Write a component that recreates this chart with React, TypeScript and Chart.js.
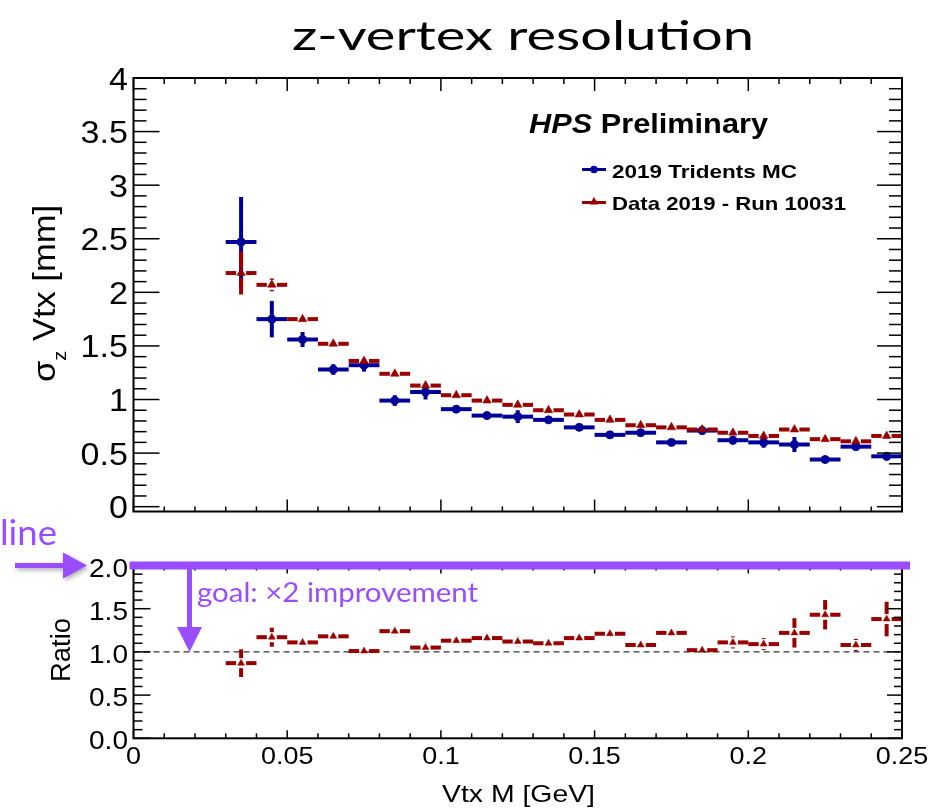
import React, { useEffect, useRef } from "react";
import { Chart, registerables } from "chart.js";

Chart.register(...registerables);

// ---------------- data ----------------
const massBins = [0.035, 0.045, 0.055, 0.065, 0.075, 0.085, 0.095, 0.105, 0.115, 0.125, 0.135,
  0.145, 0.155, 0.165, 0.175, 0.185, 0.195, 0.205, 0.215, 0.225, 0.235, 0.245];
const binHalfWidth = 0.005;

const mcSigma = [2.47, 1.75, 1.56, 1.28, 1.32, 0.99, 1.07, 0.91, 0.85, 0.84, 0.81,
  0.74, 0.67, 0.69, 0.60, 0.71, 0.62, 0.60, 0.58, 0.44, 0.56, 0.47];
const mcSigmaErr = [0.42, 0.17, 0.07, 0.05, 0.06, 0.05, 0.07, 0.03, 0.02, 0.06, 0.03,
  0.03, 0.02, 0.03, 0.02, 0.04, 0.04, 0.05, 0.07, 0.02, 0.03, 0.04];

const dataSigma = [2.18, 2.07, 1.75, 1.52, 1.36, 1.24, 1.13, 1.04, 0.99, 0.95, 0.90,
  0.86, 0.81, 0.76, 0.74, 0.72, 0.69, 0.66, 0.72, 0.63, 0.61, 0.66];
const dataSigmaErr = [0.20, 0.06, 0.04, 0.03, 0.03, 0.03, 0.03, 0.02, 0.02, 0.02, 0.02,
  0.02, 0.02, 0.02, 0.02, 0.02, 0.02, 0.02, 0.02, 0.02, 0.02, 0.02];

const ratioValues = [0.87, 1.17, 1.11, 1.18, 1.01, 1.24, 1.05, 1.13, 1.16, 1.12, 1.10,
  1.16, 1.21, 1.08, 1.22, 1.02, 1.11, 1.09, 1.22, 1.43, 1.08, 1.38];
const ratioErr = [0.16, 0.11, 0.05, 0.05, 0.04, 0.06, 0.06, 0.04, 0.03, 0.06, 0.03,
  0.05, 0.05, 0.04, 0.05, 0.05, 0.07, 0.07, 0.17, 0.17, 0.07, 0.20];

const xTickLabels = ["0", "0.05", "0.1", "0.15", "0.2", "0.25"];
const topYTickLabels = ["0", "0.5", "1", "1.5", "2", "2.5", "3", "3.5", "4"];
const ratioYTickLabels = ["0.0", "0.5", "1.0", "1.5", "2.0"];

const seriesLabels = ["2019 Tridents MC", "Data 2019 - Run 10031"];
const titleText = "z-vertex resolution";
const goalText = "goal: \u00d72 improvement";

// ---------------- style ----------------
const BLUE = "#000099";
const RED = "#990000";
const PURPLE = "#9a4cff";
const NUM = '"Liberation Sans", Arial, Helvetica, sans-serif';
const HUM = 'Lato, "Open Sans", sans-serif';
const BOT_OFFSET = 500;

type Run = { text: string; font: string; dy?: number };

function drawRuns(ctx: CanvasRenderingContext2D, runs: Run[], x: number, y: number, color: string,
  align: "left" | "center" | "right", width?: number, sx = 1, rot = false) {
  ctx.save();
  ctx.fillStyle = color;
  ctx.textBaseline = "alphabetic";
  ctx.textAlign = "left";
  const ws = runs.map((r) => { ctx.font = r.font; return ctx.measureText(r.text).width; });
  const total = ws.reduce((a, b) => a + b, 0);
  const k = width ? width / total : sx;
  ctx.translate(x, y);
  if (rot) ctx.rotate(-Math.PI / 2);
  ctx.scale(k, 1);
  let start = align === "left" ? 0 : align === "center" ? -total / 2 : -total;
  runs.forEach((r, i) => {
    ctx.font = r.font;
    ctx.fillText(r.text, start, r.dy || 0);
    start += ws[i];
  });
  ctx.restore();
}

function line(ctx: CanvasRenderingContext2D, x1: number, y1: number, x2: number, y2: number) {
  ctx.beginPath();
  ctx.moveTo(x1, y1);
  ctx.lineTo(x2, y2);
  ctx.stroke();
}

function drawErrorBars(ctx: CanvasRenderingContext2D, xs: any, ys: any, xv: number[], yv: number[],
  ev: number[], color: string, lw: number, gap: number) {
  ctx.save();
  ctx.strokeStyle = color;
  ctx.lineWidth = lw;
  ctx.lineCap = "butt";
  xv.forEach((xc, i) => {
    const px = xs.getPixelForValue(xc);
    const py = ys.getPixelForValue(yv[i]);
    const pl = xs.getPixelForValue(xc - binHalfWidth);
    const pr = xs.getPixelForValue(xc + binHalfWidth);
    const pt = ys.getPixelForValue(yv[i] + ev[i]);
    const pb = ys.getPixelForValue(yv[i] - ev[i]);
    line(ctx, pl, py, px - gap, py);
    line(ctx, px + gap, py, pr, py);
    if (py - pt > gap) {
      line(ctx, px, py - gap, px, pt);
      line(ctx, px, py + gap, px, pb);
    }
  });
  ctx.restore();
}

type TickSpec = {
  yMax: number; yMinorN: number; xMinorN: number;
  yMaj: number; yMin: number; yMajR: number; yMinR: number;
  xMajB: number; xMinB: number; xMajT: number; xMinT: number;
};

function drawFrame(ctx: CanvasRenderingContext2D, a: any, xs: any, ys: any, s: TickSpec) {
  ctx.save();
  ctx.strokeStyle = "#000";
  ctx.lineWidth = 2;
  ctx.strokeRect(a.left, a.top, a.right - a.left, a.bottom - a.top);
  ctx.lineWidth = 1.5;
  for (let i = 0; i <= s.yMinorN; i++) {
    const v = (i * s.yMax) / s.yMinorN;
    const major = i % 5 === 0;
    const p = ys.getPixelForValue(v);
    line(ctx, a.left, p, a.left + (major ? s.yMaj : s.yMin), p);
    line(ctx, a.right, p, a.right - (major ? s.yMajR : s.yMinR), p);
  }
  for (let i = 0; i <= s.xMinorN; i++) {
    const v = (i * 0.25) / s.xMinorN;
    const major = i % 5 === 0;
    const p = xs.getPixelForValue(v);
    line(ctx, p, a.bottom, p, a.bottom - (major ? s.xMajB : s.xMinB));
    line(ctx, p, a.top, p, a.top + (major ? s.xMajT : s.xMinT));
  }
  ctx.restore();
}

function drawTriangle(ctx: CanvasRenderingContext2D, x: number, y: number, r: number, color: string) {
  ctx.save();
  ctx.fillStyle = color;
  ctx.beginPath();
  ctx.moveTo(x, y - r);
  ctx.lineTo(x + r * 0.866, y + r / 2);
  ctx.lineTo(x - r * 0.866, y + r / 2);
  ctx.closePath();
  ctx.fill();
  ctx.restore();
}

const topPlugin = {
  id: "topDecor",
  beforeDatasetsDraw(chart: any) {
    const { ctx, scales } = chart;
    drawErrorBars(ctx, scales.x, scales.y, massBins, mcSigma, mcSigmaErr, BLUE, 4, 3);
    drawErrorBars(ctx, scales.x, scales.y, massBins, dataSigma, dataSigmaErr, RED, 4, 5);
  },
  afterDatasetsDraw(chart: any) {
    const { ctx, chartArea: a, scales } = chart;
    const xs = scales.x, ys = scales.y;
    drawFrame(ctx, a, xs, ys, {
      yMax: 4, yMinorN: 40, xMinorN: 25,
      yMaj: 26, yMin: 13, yMajR: 25, yMinR: 13,
      xMajB: 12, xMinB: 5, xMajT: 13, xMinT: 6,
    });
    // y tick labels
    topYTickLabels.forEach((lab) => {
      const p = ys.getPixelForValue(parseFloat(lab));
      drawRuns(ctx, [{ text: lab, font: `31px ${NUM}` }], 128, p + 11.5, "#000", "right", undefined, 1.1);
    });
    // y title
    drawRuns(ctx, [
      { text: "\u03c3", font: `31px ${NUM}` },
      { text: "z", font: `18px ${NUM}`, dy: 11 },
      { text: " Vtx [mm]", font: `31px ${NUM}` },
    ], 55, 293.5, "#000", "center", 177, 1, true);
    // main title
    drawRuns(ctx, [{ text: titleText, font: `40px ${HUM}` }], 292, 50, "#000", "left", 462);
    // HPS Preliminary
    drawRuns(ctx, [
      { text: "HPS", font: `italic bold 28px ${NUM}` },
      { text: " Preliminary", font: `bold 28px ${NUM}` },
    ], 529, 133, "#000", "left", 239);
    // legend
    ctx.save();
    ctx.lineWidth = 3;
    ctx.strokeStyle = BLUE;
    line(ctx, 582, 169.5, 606, 169.5);
    ctx.fillStyle = BLUE;
    ctx.beginPath();
    ctx.arc(594, 169.5, 3.8, 0, Math.PI * 2);
    ctx.fill();
    ctx.strokeStyle = RED;
    line(ctx, 582, 202.5, 606, 202.5);
    ctx.restore();
    drawTriangle(ctx, 594, 202, 5, RED);
    drawRuns(ctx, [{ text: seriesLabels[0], font: `bold 18.5px ${NUM}` }], 612, 177.5, "#000", "left", 185);
    drawRuns(ctx, [{ text: seriesLabels[1], font: `bold 18.5px ${NUM}` }], 612, 209.5, "#000", "left", 234);
  },
};

const bottomPlugin = {
  id: "bottomDecor",
  beforeDatasetsDraw(chart: any) {
    const { ctx, chartArea: a, scales } = chart;
    const p1 = scales.y.getPixelForValue(1);
    ctx.save();
    ctx.strokeStyle = "#000";
    ctx.lineWidth = 1;
    ctx.setLineDash([6, 4]);
    line(ctx, a.left, p1, a.right, p1);
    ctx.restore();
    drawErrorBars(ctx, scales.x, scales.y, massBins, ratioValues, ratioErr, RED, 4, 5);
  },
  afterDatasetsDraw(chart: any) {
    const { ctx, chartArea: a, scales } = chart;
    const xs = scales.x, ys = scales.y;
    drawFrame(ctx, a, xs, ys, {
      yMax: 2, yMinorN: 20, xMinorN: 25,
      yMaj: 17, yMin: 9, yMajR: 15, yMinR: 8,
      xMajB: 8, xMinB: 5, xMajT: 8, xMinT: 5,
    });
    ratioYTickLabels.forEach((lab) => {
      const p = ys.getPixelForValue(parseFloat(lab));
      drawRuns(ctx, [{ text: lab, font: `25.5px ${NUM}` }], 128, p + 11, "#000", "right", undefined, 1.1);
    });
    xTickLabels.forEach((lab) => {
      const p = xs.getPixelForValue(parseFloat(lab));
      drawRuns(ctx, [{ text: lab, font: `24.5px ${NUM}` }], p, 764 - BOT_OFFSET, "#000", "center", undefined, 1.1);
    });
    drawRuns(ctx, [{ text: "Vtx M [GeV]", font: `24.5px ${NUM}` }], 442, 802 - BOT_OFFSET, "#000", "left", 153);
    drawRuns(ctx, [{ text: "Ratio", font: `27px ${NUM}` }], 70, 650 - BOT_OFFSET, "#000", "center", 64, 1, true);

    // purple annotations
    const p2 = ys.getPixelForValue(2);
    const p1 = ys.getPixelForValue(1);
    ctx.save();
    ctx.fillStyle = PURPLE;
    ctx.fillRect(a.left - 4, p2 - 4, a.right - a.left + 12, 8);
    // down arrow
    const ax = 189.5;
    ctx.fillRect(ax - 2.5, p2, 5, p1 - 25 - p2 + 1);
    ctx.beginPath();
    ctx.moveTo(ax - 12.5, p1 - 25);
    ctx.lineTo(ax + 12.5, p1 - 25);
    ctx.lineTo(ax, p1);
    ctx.closePath();
    ctx.fill();
    // right arrow with soft shadow
    ctx.shadowColor = "rgba(0,0,0,0.35)";
    ctx.shadowBlur = 5;
    ctx.shadowOffsetX = 2;
    ctx.shadowOffsetY = 2;
    ctx.beginPath();
    ctx.moveTo(15, p2 - 2.5);
    ctx.lineTo(63, p2 - 2.5);
    ctx.lineTo(63, p2 - 13);
    ctx.lineTo(87, p2);
    ctx.lineTo(63, p2 + 13);
    ctx.lineTo(63, p2 + 2.5);
    ctx.lineTo(15, p2 + 2.5);
    ctx.closePath();
    ctx.fill();
    ctx.restore();
    drawRuns(ctx, [{ text: goalText, font: `27px ${HUM}` }], 197, 602 - BOT_OFFSET, PURPLE, "left", 281);
    drawRuns(ctx, [{ text: "line", font: `34px ${HUM}` }], 0, 545 - BOT_OFFSET, PURPLE, "left", 57);
  },
};

function baseOptions(padding: any, yMin: number, yMax: number) {
  return {
    animation: false as const,
    responsive: false,
    maintainAspectRatio: false,
    devicePixelRatio: 1,
    events: [] as any[],
    layout: { padding },
    scales: {
      x: { type: "linear" as const, min: 0, max: 0.25, display: false },
      y: { type: "linear" as const, min: yMin, max: yMax, display: false },
    },
    plugins: {
      legend: { display: false },
      tooltip: { enabled: false },
      title: { display: false },
    },
  };
}

export default function App() {
  const topRef = useRef<HTMLCanvasElement>(null);
  const botRef = useRef<HTMLCanvasElement>(null);

  useEffect(() => {
    const top = new Chart(topRef.current as HTMLCanvasElement, {
      type: "scatter",
      data: {
        datasets: [
          {
            label: seriesLabels[1],
            data: massBins.map((x, i) => ({ x, y: dataSigma[i] })),
            pointStyle: "triangle",
            pointRadius: 5,
            backgroundColor: RED,
            borderColor: RED,
            borderWidth: 0.5,
            order: 0,
          },
          {
            label: seriesLabels[0],
            data: massBins.map((x, i) => ({ x, y: mcSigma[i] })),
            pointStyle: "circle",
            pointRadius: 4,
            backgroundColor: BLUE,
            borderColor: BLUE,
            borderWidth: 1,
            order: 1,
          },
        ],
      },
      options: baseOptions({ left: 133.5, right: 50, top: 78, bottom: 18.5 }, -0.045, 4) as any,
      plugins: [topPlugin],
    });
    const bot = new Chart(botRef.current as HTMLCanvasElement, {
      type: "scatter",
      data: {
        datasets: [
          {
            label: "Ratio",
            data: massBins.map((x, i) => ({ x, y: ratioValues[i] })),
            pointStyle: "triangle",
            pointRadius: 4,
            backgroundColor: RED,
            borderColor: RED,
            borderWidth: 0.5,
          },
        ],
      },
      options: baseOptions({ left: 133.5, right: 50, top: 65.5, bottom: 71.7 }, 0, 2) as any,
      plugins: [bottomPlugin],
    });
    return () => {
      top.destroy();
      bot.destroy();
    };
  }, []);

  return (
    <div style={{ position: "absolute", left: 0, top: 0, width: 952, height: 810, background: "#fff", overflow: "hidden" }}>
      <canvas ref={topRef} width={952} height={530}
        style={{ position: "absolute", left: 0, top: 0, width: 952, height: 530 }} />
      <canvas ref={botRef} width={952} height={310}
        style={{ position: "absolute", left: 0, top: BOT_OFFSET, width: 952, height: 310 }} />
    </div>
  );
}
